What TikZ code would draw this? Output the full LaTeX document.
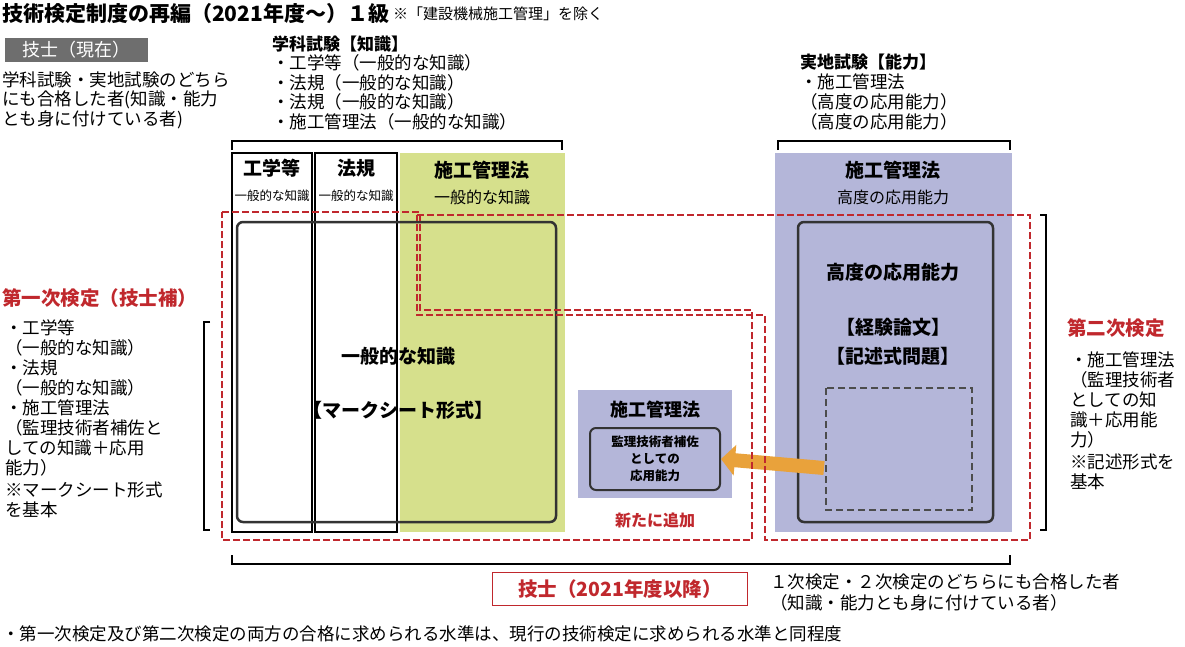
\documentclass[tikz,border=0pt]{standalone}
\usepackage{fontspec}
\setmainfont{Noto Sans CJK JP}
\usetikzlibrary{arrows.meta}
\definecolor{redc}{HTML}{C0282D}
\definecolor{greenc}{HTML}{D6E08C}
\definecolor{purpc}{HTML}{B4B6D9}
\definecolor{grayc}{HTML}{6E6E6E}
\definecolor{orangec}{HTML}{E9A23B}
\tikzset{
 txt/.style={inner sep=0pt,anchor=west,font=\fontsize{17.5}{18}\selectfont},
 bt/.style={inner sep=0pt,font=\bfseries\fontsize{19}{20}\selectfont},
 rt/.style={inner sep=0pt,anchor=west,text=redc,font=\bfseries\fontsize{19.5}{20}\selectfont},
 sm/.style={inner sep=0pt,font=\fontsize{12.5}{13}\selectfont},
 reddash/.style={draw=redc,line width=2.6pt,dash pattern=on 7pt off 3pt},
 brk/.style={draw,line width=1.2pt},
 box/.style={draw,line width=1.5pt},
 rbox/.style={draw=black!80,line width=2.5pt,rounded corners=6pt}
}
\begin{document}
\begin{tikzpicture}[x=1pt,y=-1pt]
\useasboundingbox (0,0) rectangle (1185,646);
% title
\node[inner sep=0pt,anchor=west,font=\bfseries\fontsize{21}{22}\selectfont] (title) at (2,14) {技術検定制度の再編（2021年度〜）１級};
\node[inner sep=0pt,anchor=west,font=\fontsize{15}{16}\selectfont] (note) at (title.east) {\ ※「建設機械施工管理」を除く};
\node[fill=grayc,text=white,minimum width=143pt,minimum height=24pt,inner sep=0pt,font=\fontsize{18}{19}\selectfont] (cur) at (76,50) {技士（現在）};
\node[txt] (c1) at (2,80) {学科試験・実地試験のどちら};
\node[txt] (c2) at (2,100) {にも合格した者(知識・能力};
\node[txt] (c3) at (2,120) {とも身に付けている者)};
% academic
\node[bt,anchor=west,font=\bfseries\fontsize{17}{18}\selectfont] (ga) at (272,44) {学科試験【知識】};
\node[txt] (g1) at (272,63) {・工学等（一般的な知識）};
\node[txt] (g2) at (272,83) {・法規（一般的な知識）};
\node[txt] (g3) at (272,102) {・法規（一般的な知識）};
\node[txt] (g4) at (272,122) {・施工管理法（一般的な知識）};
\draw[brk] (232,150) -- (232,141) -- (562,141) -- (562,150);
\node[bt,anchor=west,font=\bfseries\fontsize{17}{18}\selectfont] (ja) at (800,62) {実地試験【能力】};
\node[txt] (j1) at (800,82) {・施工管理法};
\node[txt] (j2) at (800,102) {（高度の応用能力）};
\node[txt] (j3) at (800,122) {（高度の応用能力）};
\draw[brk] (778,150) -- (778,141) -- (1010,141) -- (1010,150);
% columns
\fill[greenc] (400,153) rectangle (565,532);
\fill[purpc] (775,153) rectangle (1012,532);
\draw[box] (232,153) rectangle (312,532);
\draw[box] (315,153) rectangle (397,532);
\node[bt] (k1) at (272,168) {工学等};
\node[sm] (k1s) at (272,196) {一般的な知識};
\node[bt] (k2) at (356,168) {法規};
\node[sm] (k2s) at (356,196) {一般的な知識};
\node[bt] (k3) at (482,170) {施工管理法};
\node[inner sep=0pt,font=\fontsize{16}{17}\selectfont] (k3s) at (482,197) {一般的な知識};
\node[bt] (k4) at (893,170) {施工管理法};
\node[inner sep=0pt,font=\fontsize{16}{17}\selectfont] (k4s) at (893,197) {高度の応用能力};
% rounded boxes
\draw[rbox] (237,222) rectangle (556,522);
\node[bt] (m1) at (398,356) {一般的な知識};
\node[bt] (m2) at (398,410) {【マークシート形式】};
\draw[rbox] (798,222) rectangle (993,522);
\node[bt] (r1) at (893,272) {高度の応用能力};
\node[bt] (r2) at (893,327) {【経験論文】};
\node[bt] (r3) at (893,356) {【記述式問題】};
\draw[draw=black!70,line width=2pt,dash pattern=on 7pt off 4pt] (826,388) rectangle (972,510);
% small box
\fill[purpc] (578,390) rectangle (732,498);
\node[bt,font=\bfseries\fontsize{18}{19}\selectfont] (s0) at (655,410) {施工管理法};
\node[rbox,draw=black!80,line width=2pt,minimum width=130pt,minimum height=62pt,align=center,inner sep=0pt,font=\bfseries\fontsize{12.5}{17}\selectfont] (sb) at (655,459) {監理技術者補佐\\としての\\応用能力};
\coordinate (ar) at (824,468);
\draw[orangec,line width=14pt,-{Triangle[length=14pt,width=30pt]}] (ar) -- (sb.east);
\node[inner sep=0pt,text=redc,font=\bfseries\fontsize{16}{17}\selectfont] (new) at (655,520) {新たに追加};
% red dashed shapes
\draw[reddash] (222,212) -- (420,212) -- (420,310) -- (752,310) -- (752,540) -- (222,540) -- cycle;
\draw[reddash] (417,215) -- (1030,215) -- (1030,540) -- (765,540) -- (765,315) -- (417,315) -- cycle;
% left list
\node[rt] (f0) at (2,298) {第一次検定（技士補）};
\node[txt] (f1) at (5,328) {・工学等};
\node[txt] (f2) at (5,348) {（一般的な知識）};
\node[txt] (f3) at (5,368) {・法規};
\node[txt] (f4) at (5,388) {（一般的な知識）};
\node[txt] (f5) at (5,408) {・施工管理法};
\node[txt] (f6) at (5,428) {（監理技術者補佐と};
\node[txt] (f7) at (5,448) {しての知識＋応用};
\node[txt] (f8) at (5,468) {能力）};
\node[txt] (f9) at (5,490) {※マークシート形式};
\node[txt] (f10) at (5,510) {を基本};
\draw[brk] (210,322) -- (204,322) -- (204,530) -- (210,530);
% right list
\node[rt] (e0) at (1067,328) {第二次検定};
\node[txt] (e1) at (1070,360) {・施工管理法};
\node[txt] (e2) at (1070,380) {（監理技術者};
\node[txt] (e3) at (1070,400) {としての知};
\node[txt] (e4) at (1070,420) {識＋応用能};
\node[txt] (e5) at (1070,440) {力）};
\node[txt] (e6) at (1070,462) {※記述形式を};
\node[txt] (e7) at (1070,482) {基本};
\draw[brk] (1040,215) -- (1046,215) -- (1046,530) -- (1040,530);
% bottom
\draw[brk] (232,555) -- (232,564) -- (1010,564) -- (1010,555);
\node[draw=redc,line width=1.5pt,minimum width=255pt,minimum height=33pt,inner sep=0pt,text=redc,font=\bfseries\fontsize{19.5}{20}\selectfont] (new2) at (620,589) {技士（2021年度以降）};
\node[txt] (b1) at (770,582) {１次検定・２次検定のどちらにも合格した者};
\node[txt] (b2) at (770,603) {（知識・能力とも身に付けている者）};
\node[txt] (b3) at (2,634) {・第一次検定及び第二次検定の両方の合格に求められる水準は、現行の技術検定に求められる水準と同程度};
\end{tikzpicture}
\end{document}
